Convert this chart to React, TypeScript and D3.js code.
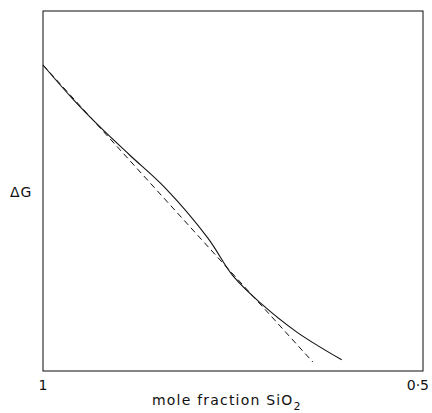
import { useEffect, useRef } from 'react';
import * as d3 from 'd3';

// mole fraction SiO2 (x) and relative free energy (arbitrary units)
const curveX = [1.0, 0.961, 0.925, 0.886, 0.839, 0.783, 0.75, 0.714, 0.666, 0.607];
const curveG = [85.0, 75.6, 67.8, 60.0, 50.8, 36.9, 26.4, 18.9, 10.8, 3.1];

const tangentX = [1.0, 0.645];
const tangentG = [85.0, 2.5];

const xTicks = [1, 0.5];
const xTickLabels = ['1', '0·5'];

const App = () => {
  const svgRef = useRef<SVGSVGElement>(null);

  useEffect(() => {
    const width = 432;
    const height = 413;
    const margin = { left: 43, right: 9, top: 11, bottom: 42 };

    const svg = d3.select(svgRef.current)
      .attr('width', width)
      .attr('height', height)
      .style('font-family', '"DejaVu Sans", sans-serif');

    svg.selectAll('*').remove();

    const x = d3.scaleLinear()
      .domain([1, 0.5])
      .range([margin.left, width - margin.right]);
    const y = d3.scaleLinear()
      .domain([0, 100])
      .range([height - margin.bottom, margin.top]);

    // frame
    svg.append('rect')
      .attr('x', margin.left)
      .attr('y', margin.top)
      .attr('width', width - margin.left - margin.right)
      .attr('height', height - margin.top - margin.bottom)
      .attr('fill', 'none')
      .attr('stroke', '#222')
      .attr('stroke-width', 1.1);

    const line = d3.line<[number, number]>()
      .x(d => x(d[0]))
      .y(d => y(d[1]))
      .curve(d3.curveCatmullRom);

    const curve = curveX.map((v, i) => [v, curveG[i]] as [number, number]);
    const tangent = tangentX.map((v, i) => [v, tangentG[i]] as [number, number]);

    svg.append('path')
      .attr('d', line(tangent))
      .attr('fill', 'none')
      .attr('stroke', '#111')
      .attr('stroke-width', 1)
      .attr('stroke-dasharray', '6,4');

    svg.append('path')
      .attr('d', line(curve))
      .attr('fill', 'none')
      .attr('stroke', '#111')
      .attr('stroke-width', 1.1);

    // x tick labels
    svg.selectAll('text.tick')
      .data(xTicks)
      .enter()
      .append('text')
      .attr('class', 'tick')
      .attr('x', d => (d === 0.5 ? 429 : x(d)))
      .attr('y', 390)
      .attr('text-anchor', d => (d === 0.5 ? 'end' : 'middle'))
      .style('font-size', '14px')
      .attr('fill', '#111')
      .text((d, i) => xTickLabels[i]);

    // axis titles
    const xt = svg.append('text')
      .attr('x', 152)
      .attr('y', 405)
      .style('font-size', '14px')
      .style('letter-spacing', '1.2px')
      .attr('fill', '#111');
    xt.append('tspan').text('mole fraction  SiO');
    xt.append('tspan').attr('dy', 5).style('font-size', '11px').text('2');

    svg.append('text')
      .attr('x', 10)
      .attr('y', 197)
      .style('font-size', '14px')
      .style('letter-spacing', '1px')
      .attr('fill', '#111')
      .text('ΔG');
  }, []);

  return (
    <div style={{ position: 'absolute', left: 0, top: 0 }}>
      <svg ref={svgRef}></svg>
    </div>
  );
};

export default App;
